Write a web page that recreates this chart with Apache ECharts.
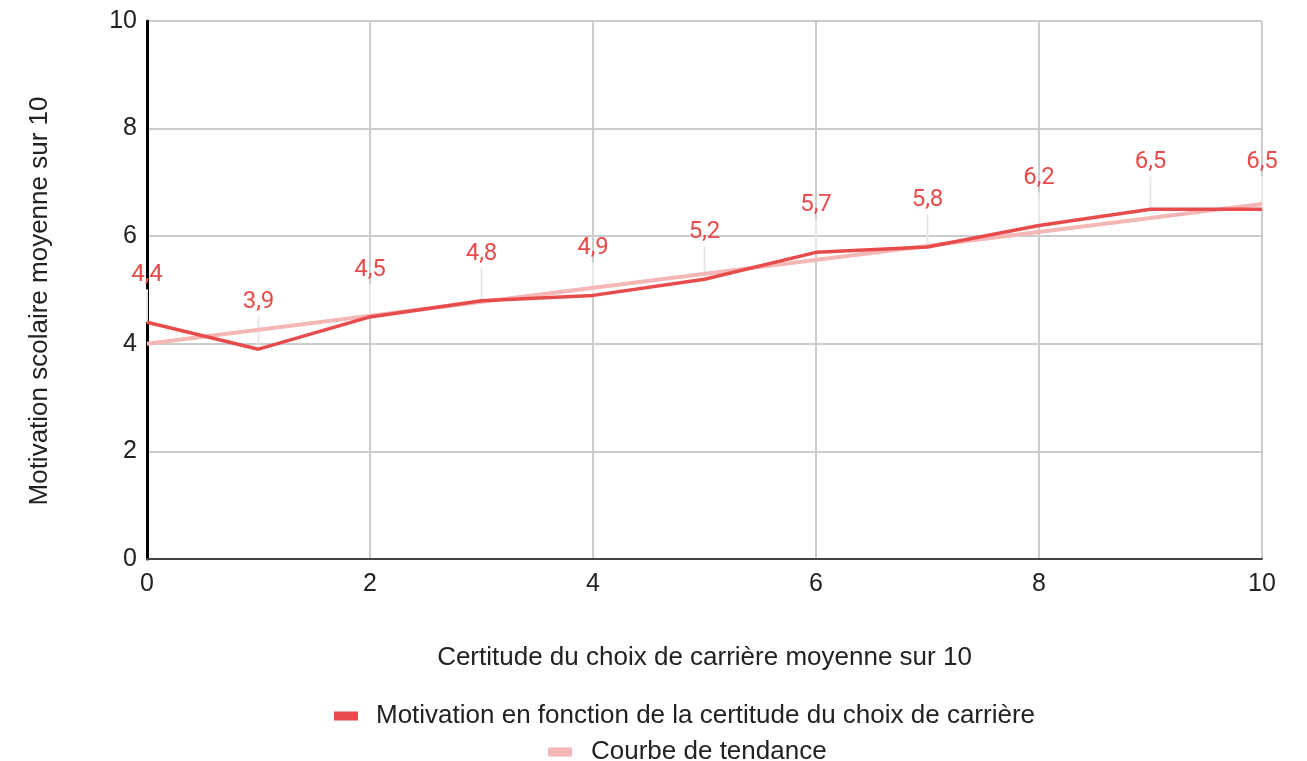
<!DOCTYPE html>
<html>
<head>
  <meta charset="utf-8">
  <title>Motivation</title>
  <script src="https://cdn.jsdelivr.net/npm/echarts@6/dist/echarts.min.js"></script>
</head>
<style>
  * { padding: 0; margin: 0; }
  #main { width: 1307px; height: 761px; background: #fff; }
</style>
<body>
  <div id="main"></div>
  <script type="text/javascript">
    // données
    var certitude = [0, 1, 2, 3, 4, 5, 6, 7, 8, 9, 10];
    var motivation = [4.4, 3.9, 4.5, 4.8, 4.9, 5.2, 5.7, 5.8, 6.2, 6.5, 6.5];
    var tendanceX = [0, 10];
    var tendanceY = [4.0, 6.6];

    var nomSerie = 'Motivation en fonction de la certitude du choix de carrière';
    var nomTendance = 'Courbe de tendance';

    var rouge = '#e84b4b';
    var rose = '#f5b7b5';

    var points = certitude.map(function (x, i) { return [x, motivation[i]]; });
    var tendance = tendanceX.map(function (x, i) { return [x, tendanceY[i]]; });

    var police = 'Liberation Sans, Arial, sans-serif';
    var axisFont = { color: '#222', fontSize: 25, fontFamily: police };
    var titreFont = { color: '#222', fontSize: 26, fontFamily: police };

    var option = {
      animation: false,
      grid: { left: 147, right: 45, top: 21, bottom: 202 },
      legend: [{
        data: [nomSerie],
        top: 698, left: 329,
        itemWidth: 24, itemHeight: 9, icon: 'rect',
        textStyle: Object.assign({ padding: [0, 0, 0, 13] }, titreFont)
      }, {
        data: [nomTendance],
        top: 734, left: 543,
        itemWidth: 24, itemHeight: 9, icon: 'rect',
        textStyle: Object.assign({ padding: [0, 0, 0, 14] }, titreFont)
      }],
      xAxis: {
        type: 'value', min: 0, max: 10, interval: 2,
        name: 'Certitude du choix de carrière moyenne sur 10',
        nameLocation: 'middle', nameGap: 86,
        nameTextStyle: titreFont,
        axisLine: { show: true, lineStyle: { color: '#444', width: 2 } },
        axisTick: { show: false },
        axisLabel: Object.assign({ margin: 13 }, axisFont),
        splitLine: { show: true, lineStyle: { color: '#ccc', width: 2 } }
      },
      yAxis: {
        type: 'value', min: 0, max: 10, interval: 2,
        name: 'Motivation scolaire moyenne sur 10',
        nameLocation: 'middle', nameGap: 94,
        nameTextStyle: Object.assign({ padding: [0, 22, 0, 0] }, titreFont),
        axisLine: { show: true, onZero: false, lineStyle: { color: '#000', width: 3 } },
        axisTick: { show: false },
        axisLabel: Object.assign({ margin: 10 }, axisFont),
        splitLine: { show: true, lineStyle: { color: '#ccc', width: 2 } }
      },
      series: [{
        // traits + étiquettes
        type: 'custom',
        name: 'etiquettes',
        z: 1,
        clip: false,
        data: points,
        renderItem: function (params, api) {
          var pt = api.coord([api.value(0), api.value(1)]);
          return {
            type: 'group',
            children: [{
              type: 'line',
              shape: { x1: pt[0], y1: pt[1], x2: pt[0], y2: pt[1] - 33 },
              style: { stroke: '#e8e8e8', lineWidth: 2 }
            }, {
              type: 'text',
              x: pt[0], y: pt[1] - 47,
              style: {
                text: api.value(1).toFixed(1).replace('.', ','),
                fill: rouge, fontSize: 24, fontFamily: 'Roboto',
                align: 'center', verticalAlign: 'middle'
              }
            }]
          };
        }
      }, {
        name: nomTendance,
        type: 'line',
        z: 2,
        data: tendance,
        symbol: 'none',
        color: rose,
        lineStyle: { color: rose, width: 4 }
      }, {
        name: nomSerie,
        type: 'line',
        z: 3,
        data: points,
        symbol: 'none',
        color: rouge,
        lineStyle: { color: rouge, width: 3.5 }
      }]
    };

    var myChart = echarts.init(document.getElementById('main'));
    myChart.setOption(option);
  </script>
</body>
</html>
